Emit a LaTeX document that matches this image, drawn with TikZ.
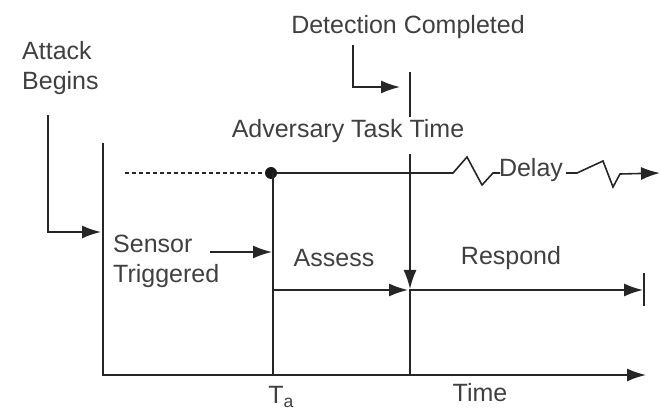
\documentclass[tikz,border=0pt]{standalone}
\usepackage{fontspec}
\setmainfont{Liberation Sans}
\usetikzlibrary{arrows.meta}
\tikzset{
  ln/.style={line width=1.6pt, draw=black!85, line join=miter},
  arr/.style={ln, -{Latex[length=19pt,width=13pt]}},
  lbl/.style={font=\fontsize{25}{30}\selectfont, text=black!75, inner sep=0pt},
}
\begin{document}
\begin{tikzpicture}[x=1pt,y=-1pt]
\useasboundingbox (0,0) rectangle (661,411);
% axes
\coordinate (ytop) at (103,143);
\coordinate (orig) at (103,375);
\coordinate (xend) at (646,375);
\draw[arr] (ytop) -- (orig) -- (xend);
% texts
\node[lbl, anchor=west, align=left] (atk) at (22,68) {Attack\\Begins};
\node[lbl] (det) at (408,27) {Detection Completed};
\node[lbl] (adv) at (348,131) {Adversary Task Time};
\node[lbl, anchor=west, align=left] (sen) at (113,261) {Sensor\\Triggered};
\node[lbl] (ass) at (334,258) {Assess};
\node[lbl] (res) at (511,258) {Respond};
\node[lbl] (dly) at (531,170) {Delay};
\node[lbl] (tim) at (480,393) {Time};
\node[lbl] (ta) at (281,397) {T\textsubscript{a}};
% attack begins arrow
\coordinate (ab1) at (48,115);
\coordinate (ab2) at (101,232);
\draw[arr] (ab1) |- (ab2);
% adversary task time line
\coordinate (dstart) at (125,173);
\coordinate (dot) at (271,173);
\draw[ln, dash pattern=on 4pt off 3pt, line width=1.2pt] (dstart) -- (dot);
\coordinate (z1) at (453,173);
\coordinate (z2) at (500,173);
\draw[ln] (dot) -- (z1) -- (467,157) -- (482,185) -- (493,173) -- (z2);
\coordinate (z3) at (566,173);
\coordinate (z4) at (660,173);
\draw[arr] (z3) -- (577,173) -- (603,161) -- (613,187) -- (620,174) -- (z4);
\fill[black!90] (dot) circle (6pt);
% Ta line
\coordinate (tabot) at (273,375);
\draw[ln] (dot) ++(2,0) -- (tabot);
% detection line
\coordinate (d1) at (410,72);
\coordinate (d2) at (410,117);
\coordinate (d3) at (410,154);
\coordinate (d4) at (410,289);
\coordinate (d5) at (410,375);
\draw[ln] (d1) -- (d2);
\draw[arr] (d3) -- (d4);
\draw[ln] (d4) -- (d5);
% detection completed bent arrow
\coordinate (dc1) at (353,45);
\coordinate (dc2) at (400,87);
\draw[arr] (dc1) |- (dc2);
% sensor arrow
\coordinate (s1) at (210,252);
\coordinate (s2) at (272,252);
\draw[arr] (s1) -- (s2);
% assess and respond
\coordinate (a1) at (273,290);
\coordinate (a2) at (408,290);
\coordinate (r2) at (643,290);
\draw[arr] (a1) -- (a2);
\draw[arr] (d4 |- a1) -- (r2);
\coordinate (b1) at (644,273);
\coordinate (b2) at (644,306);
\draw[ln] (b1) -- (b2);
\end{tikzpicture}
\end{document}
